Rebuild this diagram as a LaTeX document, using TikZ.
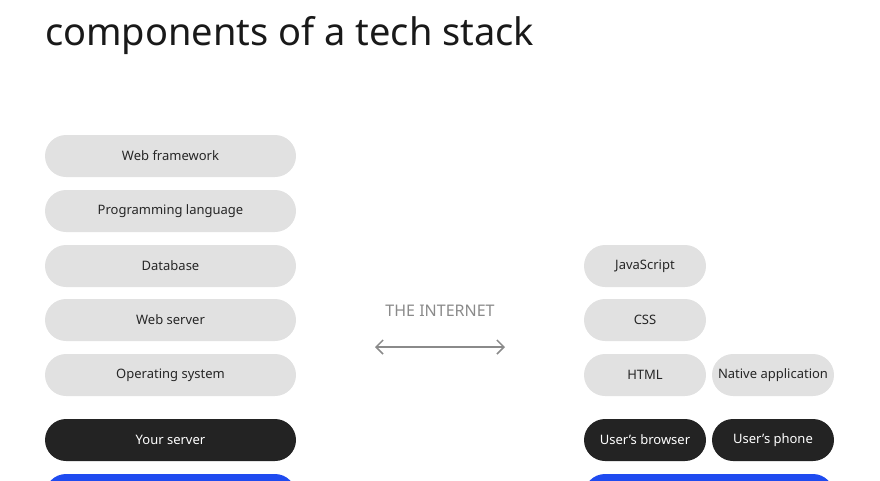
\documentclass[tikz,border=0pt]{standalone}
\usepackage{fontspec}
\usetikzlibrary{arrows.meta}
\setmainfont{Noto Sans}
\definecolor{pillgray}{HTML}{E1E1E1}
\definecolor{pilldark}{HTML}{232323}
\definecolor{pillblue}{HTML}{1F4BF0}
\definecolor{netgray}{HTML}{8A8A8A}
\tikzset{
  pill/.style={rounded corners=21pt, minimum height=42pt, inner sep=0pt, font=\fontsize{13}{15}\selectfont},
  light/.style={pill, fill=pillgray, text=black!85},
  dark/.style={pill, fill=pilldark, text=white},
  wide/.style={minimum width=251pt},
  short/.style={minimum width=122pt}
}
\begin{document}
\begin{tikzpicture}[x=1pt,y=-1pt]
\useasboundingbox (0,0) rectangle (880,480);
\node[anchor=base west, font=\fontsize{38}{40}\selectfont, text=black!90, inner sep=0pt] (title) at (45,45) {components of a tech stack};
% server side
\node[light, wide] (webfw) at (170.5,156) {Web framework};
\node[light, wide] (lang) at (170.5,211) {Programming language};
\node[light, wide] (db) at (170.5,266) {Database};
\node[light, wide] (websrv) at (170.5,320) {Web server};
\node[light, wide] (os) at (170.5,375) {Operating system};
\node[dark, wide] (server) at (170.5,440) {Your server};
\fill[pillblue, rounded corners=21pt] (45,474) rectangle (296,520);
% client side
\node[light, short] (js) at (645,266) {JavaScript};
\node[light, short] (css) at (645,320) {CSS};
\node[light, short] (html) at (645,375) {HTML};
\node[light, short] (native) at (773,375) {Native application};
\node[dark, short] (browser) at (645,440) {User's browser};
\node[dark, short] (phone) at (773,440) {User's phone};
\fill[pillblue, rounded corners=21pt] (584,474) rectangle (834,520);
% internet
\node[text=netgray, font=\fontsize{16}{18}\selectfont] (net) at (440,311) {THE INTERNET};
\coordinate (netl) at (375,347);
\coordinate (netr) at (505,347);
\draw[netgray, line width=1.5pt, {Straight Barb[length=7pt,width=14pt]}-{Straight Barb[length=7pt,width=14pt]}] (netl) -- (netr);
\end{tikzpicture}
\end{document}
